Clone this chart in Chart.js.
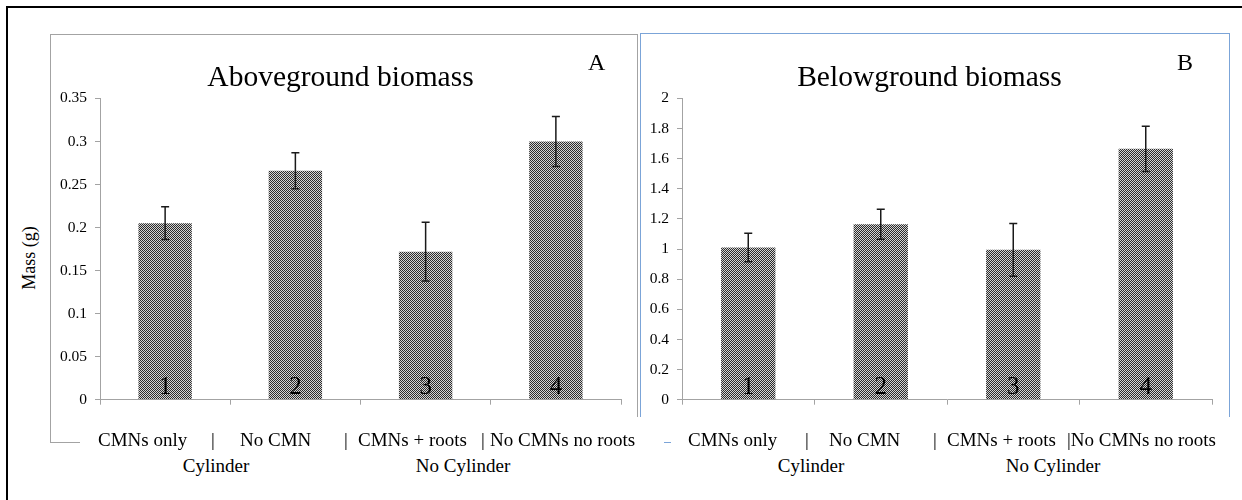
<!doctype html>
<html lang="en">
<head>
  <meta charset="utf-8">
  <title>Aboveground / Belowground biomass</title>
  <style>
    body {
      margin: 0;
      width: 1242px;
      height: 500px;
      overflow: hidden;
      background: white;
      font-family: "Liberation Serif", "Times New Roman", serif;
      position: relative;
    }
    .abs { position: absolute; }
    #outer {
      left: 6px; top: 6px; width: 1400px; height: 600px;
      border-top: 2px solid #000; border-left: 2px solid #000;
    }
    .frame { box-sizing: border-box; }
    #frameA { left: 50px; top: 34px; width: 588px; height: 409px; border: 1.5px solid #a3a3a3; }
    #frameB { left: 640px; top: 33px; width: 590px; height: 410px; border: 1.5px solid #7ba4d8; }
    canvas { position: absolute; z-index: 2; }
    .labelBox { background: white; z-index: 3; height: 72px; top: 417px; }
    .lab { z-index: 4; font-size: 19px; line-height: 1; white-space: pre; color: #000; }
    .row1 { top: 430px; transform: translateZ(0); }
    .row2 { top: 456px; transform: translateX(-50%); }
    .panelLetter { z-index: 4; font-size: 24px; line-height: 1; transform: translateZ(0); }
    #massLabel {
      z-index: 4; font-size: 18px; line-height: 1; white-space: pre;
      left: 29px; top: 258px; transform: translate(-50%, -50%) rotate(-90deg);
    }
  </style>
</head>
<body>
  <div id="outer" class="abs"></div>
  <div id="frameA" class="abs frame"></div>
  <div id="frameB" class="abs frame"></div>

  <canvas id="above" width="587" height="383" style="left:50px; top:34px;"></canvas>
  <canvas id="below" width="588" height="383" style="left:641px; top:34px;"></canvas>

  <div class="abs labelBox" style="left:80px; width:584px;"></div>
  <div class="abs labelBox" style="left:671px; width:571px;"></div>

  <div class="abs panelLetter" style="left:588px; top:50px;">A</div>
  <div class="abs panelLetter" style="left:1177px; top:50px;">B</div>
  <div id="massLabel" class="abs">Mass (g)</div>

  <!-- category row, panel A -->
  <div class="abs lab row1" style="left:98px;">CMNs only</div>
  <div class="abs lab row1" style="left:211px;">|</div>
  <div class="abs lab row1" style="left:240px;">No CMN</div>
  <div class="abs lab row1" style="left:344px;">|</div>
  <div class="abs lab row1" style="left:358px;">CMNs + roots</div>
  <div class="abs lab row1" style="left:481px;">|</div>
  <div class="abs lab row1" style="left:490px;">No CMNs no roots</div>
  <div class="abs lab row2" style="left:216px;">Cylinder</div>
  <div class="abs lab row2" style="left:463px;">No Cylinder</div>

  <!-- category row, panel B -->
  <div class="abs lab row1" style="left:688px;">CMNs only</div>
  <div class="abs lab row1" style="left:805px;">|</div>
  <div class="abs lab row1" style="left:829px;">No CMN</div>
  <div class="abs lab row1" style="left:933px;">|</div>
  <div class="abs lab row1" style="left:947px;">CMNs + roots</div>
  <div class="abs lab row1" style="left:1067px;">|No CMNs no roots</div>
  <div class="abs lab row2" style="left:811px;">Cylinder</div>
  <div class="abs lab row2" style="left:1053px;">No Cylinder</div>

  <script src="https://cdn.jsdelivr.net/npm/chart.js@4.4.0/dist/chart.umd.min.js"></script>
  <script>
    const categories = ['CMNs only', 'No CMN', 'CMNs + roots', 'No CMNs no roots'];
    const barNumbers = ['1', '2', '3', '4'];

    const aboveMass = [0.205, 0.266, 0.172, 0.300];
    const aboveErr = [0.019, 0.021, 0.034, 0.029];

    const belowMass = [1.01, 1.165, 0.995, 1.665];
    const belowErr = [0.095, 0.10, 0.175, 0.15];

    const aboveTicks = { min: 0, max: 0.35, step: 0.05 };
    const belowTicks = { min: 0, max: 2, step: 0.2 };

    const SERIF = "'Liberation Serif', 'Times New Roman', serif";
    const AXIS_GREY = '#a3a3a3';

    // excel style "dark dotted" fill
    function dottedFill() {
        const c = document.createElement('canvas');
        c.width = 2; c.height = 2;
        const g = c.getContext('2d');
        g.fillStyle = '#d4d4d4';
        g.fillRect(0, 0, 2, 2);
        g.fillStyle = '#2c2c2c';
        g.fillRect(0, 0, 1, 1);
        g.fillRect(1, 1, 1, 1);
        return g.createPattern(c, 'repeat');
    }

    // error bars + the numbers at the foot of each bar
    const barExtras = {
        id: 'barExtras',
        afterDatasetsDraw(chart, args, opts) {
            const ctx = chart.ctx;
            const y = chart.scales.y;
            const bars = chart.getDatasetMeta(0).data;
            ctx.save();
            bars.forEach((bar, i) => {
                const v = opts.values[i], e = opts.errors[i];
                const yTop = y.getPixelForValue(v + e);
                const yBot = y.getPixelForValue(v - e);
                ctx.strokeStyle = '#1a1a1a';
                ctx.lineWidth = 1.5;
                ctx.beginPath();
                ctx.moveTo(bar.x, yTop); ctx.lineTo(bar.x, yBot);
                ctx.moveTo(bar.x - 4, yTop); ctx.lineTo(bar.x + 4, yTop);
                ctx.moveTo(bar.x - 4, yBot); ctx.lineTo(bar.x + 4, yBot);
                ctx.stroke();

                ctx.fillStyle = '#000';
                ctx.font = '25px ' + SERIF;
                ctx.textAlign = 'center';
                ctx.textBaseline = 'alphabetic';
                ctx.fillText(opts.numbers[i], bar.x, y.getPixelForValue(0) - 6);
            });
            ctx.restore();
        }
    };

    // padLeft + axisWidth keeps the plot edge fixed while nudging the centred title
    function makeChart(id, title, values, errors, t, padLeft, axisWidth, padRight) {
        return new Chart(document.getElementById(id), {
            type: 'bar',
            data: {
                labels: categories,
                datasets: [{
                    data: values,
                    backgroundColor: dottedFill(),
                    borderWidth: 0,
                    categoryPercentage: 1,
                    barPercentage: 0.41
                }]
            },
            options: {
                responsive: false,
                animation: false,
                layout: { padding: { top: 0, right: padRight, bottom: 0, left: padLeft } },
                plugins: {
                    legend: { display: false },
                    tooltip: { enabled: false },
                    title: {
                        display: true,
                        text: title,
                        color: '#000',
                        font: { family: SERIF, size: 29.5, weight: 'normal' },
                        padding: { top: 27, bottom: 2 }
                    },
                    barExtras: { values: values, errors: errors, numbers: barNumbers }
                },
                scales: {
                    x: {
                        offset: true,
                        grid: { offset: true, drawOnChartArea: false, tickLength: 5, color: AXIS_GREY },
                        border: { color: AXIS_GREY, width: 1 },
                        ticks: { display: false },
                        afterFit: s => { s.height = 10; }
                    },
                    y: {
                        min: t.min,
                        max: t.max,
                        grid: { drawOnChartArea: false, tickLength: 5, color: AXIS_GREY },
                        border: { color: AXIS_GREY, width: 1 },
                        ticks: {
                            stepSize: t.step,
                            color: '#000',
                            padding: 8,
                            font: { family: SERIF, size: 15.5 },
                            callback: v => String(+v.toFixed(2))
                        },
                        afterFit: s => { s.width = axisWidth; }
                    }
                }
            },
            plugins: [barExtras]
        });
    }

    makeChart('above', 'Aboveground biomass', aboveMass, aboveErr, aboveTicks, 10, 40, 16);
    makeChart('below', 'Belowground biomass', belowMass, belowErr, belowTicks, 6, 35, 17);
  </script>
</body>
</html>
